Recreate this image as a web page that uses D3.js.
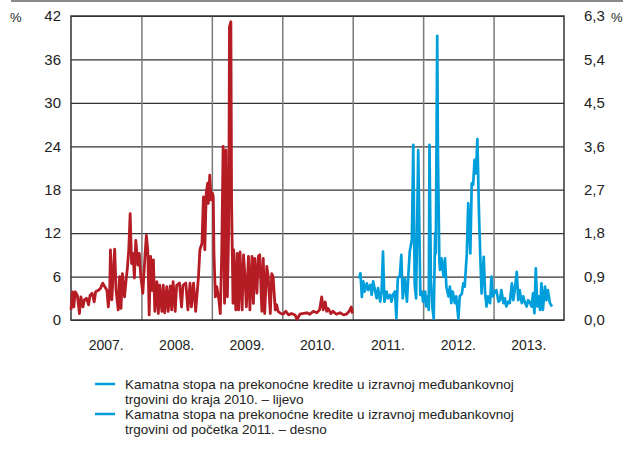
<!DOCTYPE html>
<html>
<head>
<meta charset="utf-8">
<script src="https://cdn.jsdelivr.net/npm/d3@7"></script>
<style>
	body { margin: 0; background: #fff; }
	svg { font-family: 'Liberation Sans', Arial, sans-serif; }
</style>
</head>
<body>
<div id="chart"></div>
<script>
'use strict';

// years on the x axis
var years = ['2007.', '2008.', '2009.', '2010.', '2011.', '2012.', '2013.'];

// left axis (%), right axis (%)
var leftTicks = [0, 6, 12, 18, 24, 30, 36, 42];
var rightTicks = [0, 0.9, 1.8, 2.7, 3.6, 4.5, 5.4, 6.3];

// overnight rate until end of 2010 (left axis) - [year fraction, %]
var rateTo2010 = [
	[2007.00, 1.4], [2007.02, 3.9], [2007.04, 1.8], [2007.06, 3.9], [2007.09, 3.4], [2007.12, 0.9],
	[2007.14, 3.2], [2007.17, 1.8], [2007.19, 2.8], [2007.22, 3.0], [2007.25, 2.1], [2007.27, 3.4],
	[2007.30, 3.7], [2007.33, 2.5], [2007.35, 3.9], [2007.39, 4.1], [2007.42, 4.4], [2007.45, 5.1],
	[2007.48, 4.6], [2007.51, 4.1], [2007.53, 1.8], [2007.55, 4.1], [2007.56, 9.7], [2007.58, 2.8],
	[2007.61, 8.3], [2007.62, 9.8], [2007.64, 4.1], [2007.67, 1.4], [2007.69, 6.0], [2007.71, 1.6],
	[2007.73, 6.4], [2007.76, 3.2], [2007.78, 5.3], [2007.80, 7.1], [2007.82, 9.7], [2007.84, 14.7],
	[2007.86, 7.8], [2007.88, 9.2], [2007.90, 5.8], [2007.92, 11.0], [2007.95, 7.6], [2007.97, 9.2],
	[2007.99, 6.1], [2008.02, 3.7], [2008.05, 8.8], [2008.07, 11.7], [2008.09, 9.7], [2008.11, 0.7],
	[2008.13, 8.8], [2008.15, 4.1], [2008.17, 8.3], [2008.19, 1.2], [2008.22, 5.3], [2008.24, 0.9],
	[2008.26, 4.8], [2008.29, 1.2], [2008.31, 4.8], [2008.33, 1.0], [2008.36, 4.6], [2008.38, 1.2],
	[2008.41, 4.7], [2008.43, 1.4], [2008.45, 5.3], [2008.48, 1.2], [2008.50, 4.8], [2008.54, 5.1],
	[2008.57, 1.8], [2008.59, 4.8], [2008.63, 5.1], [2008.66, 1.4], [2008.69, 5.1], [2008.71, 1.8],
	[2008.74, 5.1], [2008.77, 1.2], [2008.81, 6.0], [2008.83, 9.7], [2008.86, 10.6], [2008.88, 17.0],
	[2008.90, 9.7], [2008.92, 17.5], [2008.94, 18.9], [2008.95, 16.1], [2008.97, 20.0], [2008.99, 16.6],
	[2009.01, 17.5], [2009.02, 17.0], [2009.03, 9.2], [2009.05, 3.2], [2009.07, 4.6], [2009.10, 2.8],
	[2009.12, 0.9], [2009.14, 9.2], [2009.16, 24.0], [2009.18, 2.3], [2009.20, 23.5], [2009.22, 3.2],
	[2009.24, 12.9], [2009.25, 40.5], [2009.27, 41.2], [2009.28, 16.6], [2009.30, 2.3], [2009.31, 9.7],
	[2009.34, 1.4], [2009.36, 9.2], [2009.38, 1.4], [2009.40, 9.4], [2009.43, 1.4], [2009.45, 9.0],
	[2009.47, 6.0], [2009.49, 1.8], [2009.52, 8.8], [2009.54, 1.4], [2009.57, 8.8], [2009.59, 2.3],
	[2009.61, 8.5], [2009.64, 3.7], [2009.66, 8.8], [2009.68, 9.0], [2009.71, 1.2], [2009.73, 8.5],
	[2009.75, 0.9], [2009.78, 7.4], [2009.80, 6.0], [2009.83, 0.9], [2009.85, 6.4], [2009.87, 6.0],
	[2009.90, 1.4], [2009.92, 2.1], [2009.94, 1.2], [2009.98, 0.9], [2010.01, 0.8], [2010.05, 1.2],
	[2010.09, 0.7], [2010.13, 0.9], [2010.18, 0.7], [2010.21, 0.1], [2010.25, 0.8], [2010.30, 0.9],
	[2010.35, 1.0], [2010.39, 0.8], [2010.44, 1.2], [2010.49, 1.0], [2010.53, 1.4], [2010.56, 3.2],
	[2010.58, 1.4], [2010.61, 2.5], [2010.63, 1.2], [2010.65, 1.6], [2010.69, 0.9], [2010.72, 1.2],
	[2010.77, 0.8], [2010.82, 1.0], [2010.87, 0.7], [2010.91, 0.8], [2010.95, 1.2], [2010.98, 1.8],
	[2010.995, 0.9]
];

// overnight rate from start of 2011 (right axis) - [year fraction, %]
var rateFrom2011 = [
	[2011.09, 0.86], [2011.11, 0.97], [2011.13, 0.48], [2011.15, 0.80], [2011.17, 0.59], [2011.20, 0.76],
	[2011.22, 0.62], [2011.25, 0.73], [2011.27, 0.52], [2011.29, 0.80], [2011.32, 0.59], [2011.34, 0.45],
	[2011.36, 0.66], [2011.39, 0.38], [2011.41, 0.59], [2011.43, 1.42], [2011.45, 0.38], [2011.48, 0.59],
	[2011.50, 0.45], [2011.53, 0.52], [2011.55, 0.38], [2011.57, 0.52], [2011.60, 0.59], [2011.62, 0.04],
	[2011.64, 0.86], [2011.67, 0.93], [2011.69, 1.35], [2011.71, 0.45], [2011.74, 0.86], [2011.77, 0.38],
	[2011.79, 0.93], [2011.81, 1.42], [2011.84, 1.66], [2011.86, 3.63], [2011.88, 0.73], [2011.90, 0.45],
	[2011.93, 3.52], [2011.96, 0.52], [2011.98, 0.59], [2012.00, 0.38], [2012.03, 0.59], [2012.04, 0.28],
	[2012.06, 0.49], [2012.08, 0.21], [2012.09, 3.63], [2012.11, 0.83], [2012.13, 0.28], [2012.15, 0.03],
	[2012.17, 1.80], [2012.18, 1.38], [2012.20, 5.89], [2012.21, 3.45], [2012.23, 1.24], [2012.24, 1.04],
	[2012.26, 1.28], [2012.29, 0.90], [2012.31, 1.28], [2012.33, 0.69], [2012.36, 0.49], [2012.38, 0.69],
	[2012.40, 0.35], [2012.42, 0.59], [2012.45, 0.35], [2012.47, 0.49], [2012.50, 0.03], [2012.52, 0.49],
	[2012.55, 0.55], [2012.57, 0.76], [2012.59, 0.69], [2012.62, 1.38], [2012.64, 2.42], [2012.67, 1.38],
	[2012.69, 2.83], [2012.71, 2.80], [2012.73, 3.32], [2012.75, 3.04], [2012.77, 3.75], [2012.78, 3.11],
	[2012.79, 2.35], [2012.81, 1.38], [2012.83, 0.55], [2012.86, 1.31], [2012.88, 0.55], [2012.90, 0.28],
	[2012.92, 0.49], [2012.95, 0.35], [2012.97, 0.90], [2012.99, 0.49], [2013.02, 0.59], [2013.04, 0.62],
	[2013.07, 0.38], [2013.09, 0.41], [2013.11, 0.62], [2013.14, 0.35], [2013.16, 0.45], [2013.18, 0.28],
	[2013.21, 0.38], [2013.23, 0.35], [2013.26, 0.76], [2013.28, 0.41], [2013.30, 0.62], [2013.33, 1.00],
	[2013.35, 0.41], [2013.37, 0.62], [2013.40, 0.35], [2013.42, 0.49], [2013.44, 0.38], [2013.47, 0.28],
	[2013.49, 0.41], [2013.51, 0.38], [2013.54, 0.28], [2013.56, 0.55], [2013.58, 0.14], [2013.60, 1.07],
	[2013.62, 0.28], [2013.64, 0.49], [2013.66, 0.21], [2013.68, 0.76], [2013.70, 0.21], [2013.73, 0.69],
	[2013.75, 0.41], [2013.77, 0.62], [2013.80, 0.35], [2013.83, 0.28]
];

var legendLabels = [
	['Kamatna stopa na prekonoćne kredite u izravnoj međubankovnoj', 'trgovini do kraja 2010. – lijevo'],
	['Kamatna stopa na prekonoćne kredite u izravnoj međubankovnoj', 'trgovini od početka 2011. – desno']
];

const margin = { top: 16, right: 63, bottom: 130, left: 71 };
const W = 627, H = 450;
var width = W - margin.left - margin.right;
var height = H - margin.top - margin.bottom;

var red = '#b51c24';
var blue = '#009fdc';

var svg = d3.select('#chart').append('svg')
	.attr('width', W)
	.attr('height', H);

// grey rule at the top
svg.append('line')
	.attr('x1', 11).attr('x2', 623)
	.attr('y1', 1).attr('y2', 1)
	.style('stroke', '#8a8a8a')
	.style('stroke-width', 2);

var g = svg.append('g')
	.attr('transform', 'translate(' + margin.left + ',' + margin.top + ')');

var x = d3.scaleLinear().domain([2007, 2014]).range([0, width]);
var yLeft = d3.scaleLinear().domain([0, 42]).range([height, 0]);
var yRight = d3.scaleLinear().domain([0, 6.3]).range([height, 0]);

// horizontal grid
g.append('g')
	.call(d3.axisLeft(yLeft).tickValues(leftTicks).tickSize(-width).tickFormat(''))
	.call(function(s) {
		s.select('.domain').remove();
		s.selectAll('line').style('stroke', '#333').style('stroke-width', 1.2);
	});

// vertical year grid
g.append('g')
	.call(d3.axisBottom(x).tickValues(d3.range(2008, 2014)).tickSize(height).tickFormat(''))
	.call(function(s) {
		s.select('.domain').remove();
		s.selectAll('line').style('stroke', '#7a7a7a').style('stroke-width', 1.5);
	});

// frame
g.append('rect')
	.attr('width', width)
	.attr('height', height)
	.style('fill', 'none')
	.style('stroke', '#333')
	.style('stroke-width', 1.5);

// left axis labels
g.append('g')
	.call(d3.axisLeft(yLeft).tickValues(leftTicks).tickSize(0).tickPadding(10))
	.call(function(s) {
		s.select('.domain').remove();
		s.selectAll('text').style('font-size', '15px').style('fill', '#222')
			.attr('font-family', null);
	});

// right axis labels
g.append('g')
	.attr('transform', 'translate(' + width + ',0)')
	.call(d3.axisRight(yRight).tickValues(rightTicks).tickSize(0).tickPadding(20)
		.tickFormat(function(d) { return d.toFixed(1).replace('.', ','); }))
	.call(function(s) {
		s.select('.domain').remove();
		s.selectAll('text').style('font-size', '15px').style('fill', '#222')
			.attr('font-family', null);
	});

// % units
svg.append('text').attr('x', 10).attr('y', 22).text('%')
	.style('font-size', '13px').style('fill', '#222');
svg.append('text').attr('x', 611).attr('y', 22).text('%')
	.style('font-size', '13px').style('fill', '#222');

// year labels centred in each year
g.selectAll('.year')
	.data(years)
	.enter().append('text')
	.attr('class', 'year')
	.attr('x', function(d, i) { return x(2007 + i + 0.5); })
	.attr('y', height + 30)
	.style('text-anchor', 'middle')
	.style('font-size', '14px')
	.style('fill', '#222')
	.text(function(d) { return d; });

// lines
var lineLeft = d3.line()
	.x(function(d) { return x(d[0]); })
	.y(function(d) { return yLeft(d[1]); });
var lineRight = d3.line()
	.x(function(d) { return x(d[0]); })
	.y(function(d) { return yRight(d[1]); });

g.append('path')
	.datum(rateTo2010)
	.attr('d', lineLeft)
	.style('fill', 'none')
	.style('stroke', red)
	.style('stroke-width', 2.8)
	.style('stroke-linejoin', 'round');

g.append('path')
	.datum(rateFrom2011)
	.attr('d', lineRight)
	.style('fill', 'none')
	.style('stroke', blue)
	.style('stroke-width', 2.7)
	.style('stroke-linejoin', 'round');

// legend (both swatches are blue in the original)
var legend = svg.append('g').attr('transform', 'translate(95,384)');
legendLabels.forEach(function(lines, i) {
	var item = legend.append('g').attr('transform', 'translate(0,' + (i * 30) + ')');
	item.append('line')
		.attr('x1', 0).attr('x2', 20)
		.attr('y1', 0).attr('y2', 0)
		.style('stroke', blue)
		.style('stroke-width', 2.5);
	lines.forEach(function(t, j) {
		item.append('text')
			.attr('x', 30)
			.attr('y', 5 + j * 14.5)
			.style('font-size', '13.5px')
			.style('fill', '#222')
			.text(t);
	});
});
</script>
</body>
</html>
